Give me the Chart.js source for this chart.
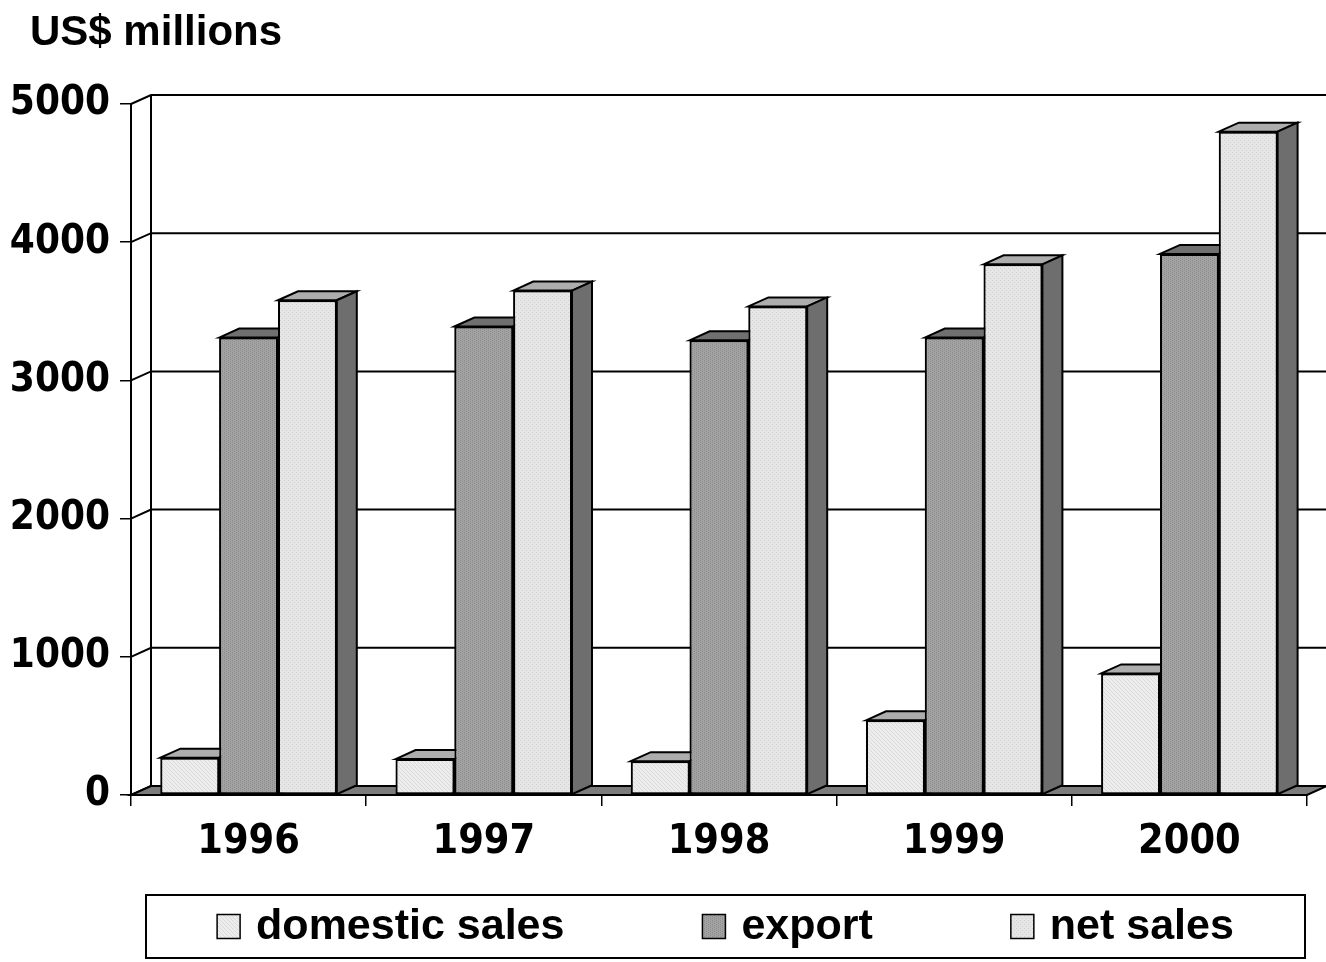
<!DOCTYPE html>
<html>
<head>
<meta charset="utf-8">
<title>US$ millions</title>
<script src="https://cdn.jsdelivr.net/npm/chart.js@4.4.1/dist/chart.umd.min.js"></script>
<style>
  html, body { margin: 0; padding: 0; background: #fff; }
  canvas { display: block; }
</style>
</head>
<body>
<canvas id="grafico" width="1326" height="962"></canvas>
<script>
// valores (US$ milhões)
const anos = ['1996', '1997', '1998', '1999', '2000'];
const vendasInternas = [270, 260, 245, 540, 880];
const exportacao = [3310, 3390, 3290, 3310, 3915];
const vendasLiquidas = [3580, 3650, 3535, 3840, 4800];
const nomesSeries = ['domestic sales', 'export', 'net sales'];
const marcasEixoY = [0, 1000, 2000, 3000, 4000, 5000];
const tituloEixo = 'US$ millions';

// profundidade do efeito 3D
const DX = 20, DY = -9;

function criarTextura(fundo, ponto, tipo) {
    const c = document.createElement('canvas');
    c.width = 4; c.height = 4;
    const g = c.getContext('2d');
    g.fillStyle = fundo; g.fillRect(0, 0, 4, 4);
    g.fillStyle = ponto;
    if (tipo === 'diag') {
        for (let i = 0; i < 4; i++) g.fillRect(i, i, 1, 1);
    } else if (tipo === 'vert') {
        g.fillRect(0, 0, 1, 1); g.fillRect(0, 2, 1, 1); g.fillRect(2, 1, 1, 1); g.fillRect(2, 3, 1, 1);
    } else {
        g.fillRect(0, 0, 1, 1); g.fillRect(2, 2, 1, 1);
    }
    return g.createPattern(c, 'repeat');
}

const texturas = [
    criarTextura('#ededed', '#d9d9d9', 'diag'),
    criarTextura('#a3a3a3', '#8c8c8c', 'vert'),
    criarTextura('#e6e6e6', '#d0d0d0', 'dots')
];
const coresTopo = ['#adadad', '#707070', '#adadad'];
const coresLado = ['#6e6e6e', '#4e4e4e', '#6e6e6e'];

const fonteNum = "'DejaVu Sans Condensed', 'DejaVu Sans', sans-serif";
const fonteTexto = "'Liberation Sans', Arial, sans-serif";

// paredes, grade no fundo e piso
const cenario3D = {
    id: 'cenario3D',
    beforeDatasetsDraw(chart) {
        const { ctx, chartArea: a, scales: { y } } = chart;
        ctx.save();
        ctx.strokeStyle = '#000';
        ctx.lineWidth = 2;
        marcasEixoY.forEach(v => {
            const py = y.getPixelForValue(v);
            ctx.beginPath();
            ctx.moveTo(a.left, py);
            ctx.lineTo(a.left + DX, py + DY);
            ctx.lineTo(chart.width + 5, py + DY);
            ctx.stroke();
        });
        ctx.beginPath();
        ctx.moveTo(a.left + DX, a.top + DY);
        ctx.lineTo(a.left + DX, a.bottom + DY);
        ctx.stroke();

        ctx.beginPath();
        ctx.moveTo(a.left, a.bottom);
        ctx.lineTo(a.right, a.bottom);
        ctx.lineTo(a.right + DX, a.bottom + DY);
        ctx.lineTo(a.left + DX, a.bottom + DY);
        ctx.closePath();
        ctx.fillStyle = '#7c7c7c';
        ctx.fill();
        ctx.stroke();
        ctx.restore();
    },
    afterDatasetsDraw(chart) {
        const { ctx } = chart;
        ctx.save();
        ctx.strokeStyle = '#000';
        ctx.lineWidth = 2;
        ctx.lineJoin = 'miter';
        anos.forEach((_, i) => {
            chart.data.datasets.forEach((ds, d) => {
                const bar = chart.getDatasetMeta(d).data[i];
                const x0 = bar.x - bar.width / 2, x1 = bar.x + bar.width / 2;
                const topo = bar.y, base = bar.base;
                // face de cima
                ctx.beginPath();
                ctx.moveTo(x0, topo);
                ctx.lineTo(x0 + DX, topo + DY);
                ctx.lineTo(x1 + DX, topo + DY);
                ctx.lineTo(x1, topo);
                ctx.closePath();
                ctx.fillStyle = coresTopo[d];
                ctx.fill(); ctx.stroke();
                // face lateral
                ctx.beginPath();
                ctx.moveTo(x1, topo);
                ctx.lineTo(x1 + DX, topo + DY);
                ctx.lineTo(x1 + DX, base + DY);
                ctx.lineTo(x1, base);
                ctx.closePath();
                ctx.fillStyle = coresLado[d];
                ctx.fill(); ctx.stroke();
                // frente de novo por cima
                bar.draw(ctx, chart.chartArea);
            });
        });
        ctx.restore();
    }
};

// título no canto e legenda com moldura
const textosExtras = {
    id: 'textosExtras',
    afterDraw(chart) {
        const { ctx, chartArea: a } = chart;
        ctx.save();
        ctx.fillStyle = '#000';
        ctx.font = 'bold 42px ' + fonteTexto;
        ctx.textBaseline = 'middle';
        ctx.fillText(tituloEixo, 30, 33);

        const L = a.left + 15, R = a.right - 2, T = a.bottom + 100, B = chart.height - 4;
        ctx.strokeStyle = '#000';
        ctx.lineWidth = 2;
        ctx.strokeRect(L, T, R - L, B - T);

        ctx.font = 'bold 43px ' + fonteTexto;
        const caixa = 23, folgaTexto = 16, folgaItem = 138;
        const larguras = chart.data.datasets.map(ds => ctx.measureText(ds.label).width);
        const total = larguras.reduce((s, w) => s + caixa + folgaTexto + w, 0) + folgaItem * (larguras.length - 1);
        const cy = (T + B) / 2;
        let px = (L + R) / 2 - total / 2;
        chart.data.datasets.forEach((ds, d) => {
            ctx.fillStyle = ds.backgroundColor;
            ctx.fillRect(px, cy - 12, caixa, 24);
            ctx.lineWidth = 1.5;
            ctx.strokeRect(px, cy - 12, caixa, 24);
            ctx.fillStyle = '#000';
            ctx.fillText(ds.label, px + caixa + folgaTexto, cy + 1);
            px += caixa + folgaTexto + larguras[d] + folgaItem;
        });
        ctx.restore();
    }
};

const series = [vendasInternas, exportacao, vendasLiquidas];

new Chart(document.getElementById('grafico'), {
    type: 'bar',
    data: {
        labels: anos,
        datasets: series.map((valores, d) => ({
            label: nomesSeries[d],
            data: valores,
            backgroundColor: texturas[d],
            borderColor: '#000',
            borderWidth: 2,
            borderSkipped: false,
            categoryPercentage: 0.75,
            barPercentage: 1.0
        }))
    },
    options: {
        responsive: false,
        animation: false,
        layout: { padding: { left: 0, right: 19, top: 104, bottom: 77 } },
        plugins: {
            legend: { display: false },
            tooltip: { enabled: false },
            title: { display: false }
        },
        scales: {
            x: {
                grid: { display: true, drawOnChartArea: false, drawTicks: true, tickLength: 11, color: '#000', lineWidth: 1.5, offset: true },
                border: { display: true, color: '#000', width: 2 },
                ticks: { color: '#000', padding: 12, font: { family: fonteNum, size: 41, weight: 'bold' } },
                afterFit(scale) { scale.height = 90; }
            },
            y: {
                min: 0,
                max: 5000,
                grid: { display: true, drawOnChartArea: false, drawTicks: true, tickLength: 11, color: '#000', lineWidth: 1.5 },
                border: { display: true, color: '#000', width: 2 },
                ticks: {
                    stepSize: 1000,
                    color: '#000',
                    padding: 10,
                    font: { family: fonteNum, size: 40, weight: 'bold' },
                    callback: v => String(v)
                },
                afterFit(scale) { scale.width = 131; }
            }
        }
    },
    plugins: [cenario3D, textosExtras]
});
</script>
</body>
</html>
